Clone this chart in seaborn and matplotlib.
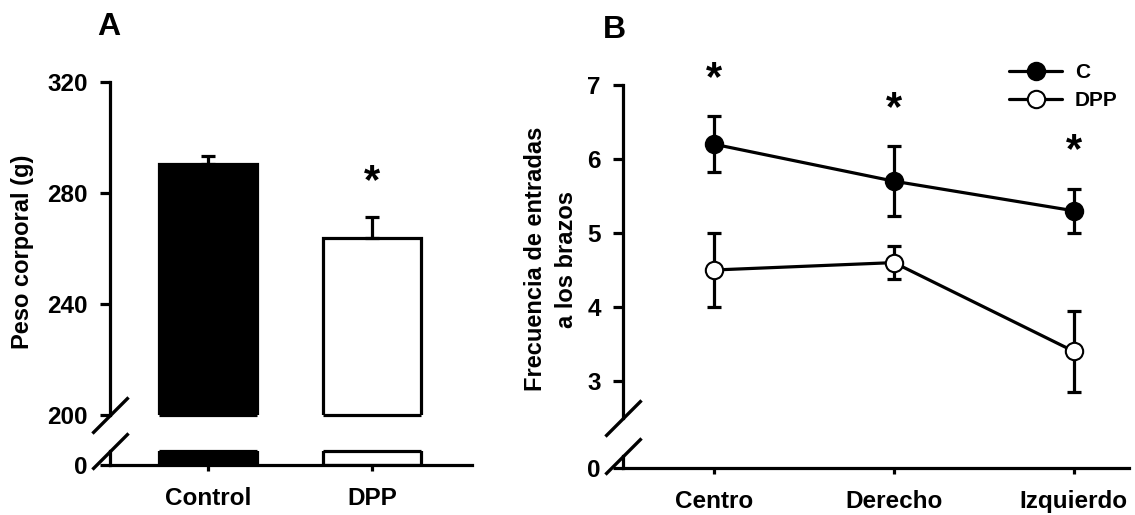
import matplotlib
matplotlib.use("Agg")
import matplotlib.pyplot as plt
import pandas as pd
import seaborn as sns

# --- datos panel A: peso corporal ---
grupos = ["Control", "DPP"]
peso = [290.6, 263.8]
peso_err = [2.6, 7.5]

# --- datos panel B: frecuencia de entradas a los brazos ---
brazos = ["Centro", "Derecho", "Izquierdo"]
frec_c = [6.2, 5.7, 5.3]
frec_c_err = [0.38, 0.47, 0.30]
frec_dpp = [4.5, 4.6, 3.4]
frec_dpp_err = [0.50, 0.22, 0.55]

sns.set_theme(style="ticks")
plt.rcParams["font.family"] = ["Liberation Sans", "DejaVu Sans"]
plt.rcParams["font.weight"] = "bold"
plt.rcParams["axes.labelweight"] = "bold"
plt.rcParams["axes.linewidth"] = 2.3
plt.rcParams["axes.edgecolor"] = "black"
plt.rcParams["axes.labelcolor"] = "black"
plt.rcParams["text.color"] = "black"
plt.rcParams["xtick.color"] = "black"
plt.rcParams["ytick.color"] = "black"

W, H = 1135, 515
fig = plt.figure(figsize=(W / 100, H / 100), dpi=100)


def rect(x0, x1, ytop, ybot):
    # px -> fracción de figura
    return [x0 / W, 1 - ybot / H, (x1 - x0) / W, (ybot - ytop) / H]


lw = 2.3
fs_tick = 17.5
fs_lab = 17


def estilo(ax, top_part):
    sns.despine(ax=ax)
    ax.tick_params(axis="y", length=7, width=lw, labelsize=fs_tick, pad=9)
    ax.tick_params(axis="x", length=4.5, width=lw, labelsize=fs_tick, pad=11)
    ax.set_xlabel("")
    ax.set_ylabel("")
    if top_part:
        ax.spines["bottom"].set_visible(False)
        ax.tick_params(axis="x", bottom=False, labelbottom=False)


def barra_rota(ax_up, ax_lo):
    kw = dict(marker=[(-1, -1), (1, 1)], markersize=26, color="black",
              mew=2.4, linestyle="none", clip_on=False, zorder=10)
    ax_up.plot([0], [0], transform=ax_up.transAxes, **kw)
    ax_lo.plot([0], [1], transform=ax_lo.transAxes, **kw)


# ================= Panel A =================
axA = fig.add_axes(rect(110, 472, 82, 415))
axA0 = fig.add_axes(rect(110, 472, 451, 465))
df_a = pd.DataFrame({"grupo": grupos, "peso": peso})

for ax in (axA, axA0):
    sns.barplot(data=df_a, x="grupo", y="peso", hue="grupo",
                palette=["black", "white"], edgecolor="black", linewidth=lw,
                width=0.6, legend=False, ax=ax)
    ax.set_xlim(-0.6, 1.61)

axA.set_ylim(200, 320)
axA.set_yticks([200, 240, 280, 320])
axA0.set_ylim(0, 5)
axA0.set_yticks([0])

# bordes de las barras cortadas por la ruptura
for p in axA.patches:
    axA.hlines(200, p.get_x(), p.get_x() + p.get_width(), color="black",
               lw=lw, clip_on=False, zorder=3)
for p in axA0.patches:
    axA0.hlines(5, p.get_x(), p.get_x() + p.get_width(), color="black",
                lw=lw, clip_on=False, zorder=3)

xs = [p.get_x() + p.get_width() / 2 for p in axA.patches]
axA.errorbar(xs, peso, yerr=[[0] * len(peso), peso_err], fmt="none",
             ecolor="black", elinewidth=lw, capsize=5, capthick=lw, zorder=1)
axA.annotate("*", xy=(xs[1], peso[1] + peso_err[1]), xytext=(0, 17),
             textcoords="offset points", ha="center", va="baseline",
             fontsize=30, fontweight="bold")

estilo(axA, True)
estilo(axA0, False)
axA.set_ylabel("Peso corporal (g)", fontsize=fs_lab, fontweight="bold")
axA.yaxis.set_label_coords(-0.21, 0.49)
barra_rota(axA, axA0)

# ================= Panel B =================
axB = fig.add_axes(rect(623, 1129, 85, 418))
axB0 = fig.add_axes(rect(623, 1129, 456, 468))

df_c = pd.DataFrame({"brazo": brazos, "frec": frec_c})
df_d = pd.DataFrame({"brazo": brazos, "frec": frec_dpp})

axB.errorbar(brazos, frec_c, yerr=frec_c_err, fmt="none", ecolor="black",
             elinewidth=lw, capsize=5, capthick=lw, zorder=1)
axB.errorbar(brazos, frec_dpp, yerr=frec_dpp_err, fmt="none", ecolor="black",
             elinewidth=lw, capsize=5, capthick=lw, zorder=1)
sns.lineplot(data=df_c, x="brazo", y="frec", sort=False, color="black",
             lw=lw, marker="o", markersize=12.5, markerfacecolor="black",
             markeredgecolor="black", markeredgewidth=1.5, label="C",
             ax=axB, zorder=3)
sns.lineplot(data=df_d, x="brazo", y="frec", sort=False, color="black",
             lw=lw, marker="o", markersize=12.5, markerfacecolor="white",
             markeredgecolor="black", markeredgewidth=1.5, label="DPP",
             ax=axB, zorder=3)

for x, y, e in zip(brazos, frec_c, frec_c_err):
    axB.annotate("*", xy=(x, y + e), xytext=(0, 19),
                 textcoords="offset points", ha="center", va="baseline",
                 fontsize=30, fontweight="bold", annotation_clip=False)

axB.set_xlim(-0.506, 2.306)
axB.set_ylim(2.5, 7)
axB.set_yticks([3, 4, 5, 6, 7])

axB0.set_xlim(-0.506, 2.306)
axB0.set_ylim(0, 1)
axB0.set_yticks([0])
axB0.set_xticks(range(len(brazos)))
axB0.set_xticklabels(brazos)

estilo(axB, True)
estilo(axB0, False)
axB.set_ylabel("Frecuencia de entradas\na los brazos", fontsize=fs_lab,
               fontweight="bold", linespacing=1.45)
axB.yaxis.set_label_coords(-0.088, 0.477)
barra_rota(axB, axB0)

axB.legend(loc="upper left", bbox_to_anchor=(1009 / W, 1 - 63 / H),
           bbox_transform=fig.transFigure, frameon=False, borderpad=0,
           borderaxespad=0, handlelength=2.55, handletextpad=0.6,
           labelspacing=0.45, prop={"size": 15, "weight": "bold"})

# letras de panel
fig.text(97 / W, 1 - 35 / H, "A", fontsize=23, fontweight="bold", va="baseline")
fig.text(603 / W, 1 - 38 / H, "B", fontsize=23, fontweight="bold", va="baseline")

fig.savefig("out.png", dpi=100)
